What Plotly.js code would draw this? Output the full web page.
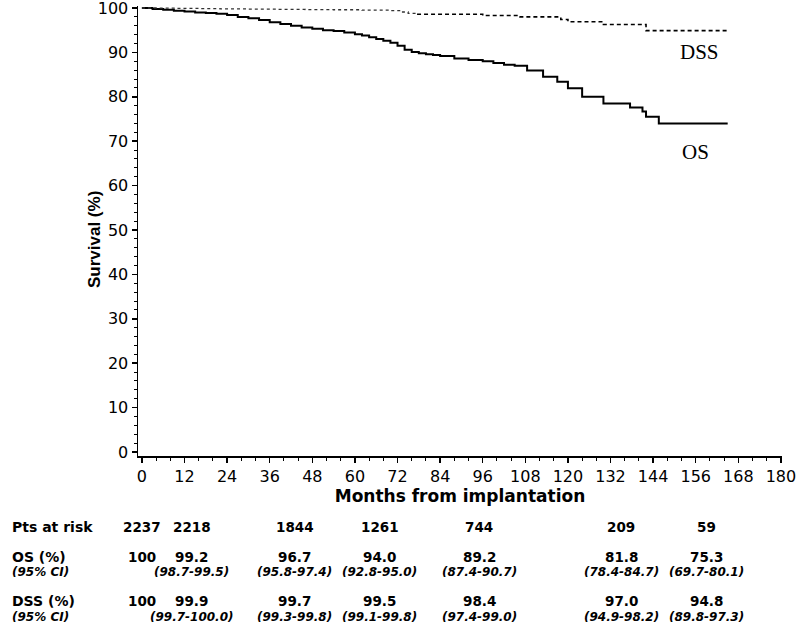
<!DOCTYPE html>
<html>
<head>
<meta charset="utf-8">
<script src="https://cdn.plot.ly/plotly-3.0.1.min.js"></script>
<style>html,body{margin:0;padding:0;background:#fff;}#chart{width:797px;height:629px;}</style>
</head>
<body>
<div id="chart"></div>
<script>
// ---- data ----
const osMonths = [0,3,6,9,12,15,18,21,24,27,30,33,36,39,42,45,48,51,54,57,60,62,64,66,68,70,72,74,76,78,80,82,84,88,92,96,99,102,105,108.5,113,117,120,124,130,137.5,141,142,145.6,165];
const osSurv   = [100,99.8,99.6,99.4,99.2,99.0,98.9,98.7,98.4,98.0,97.7,97.3,96.8,96.4,96.0,95.6,95.3,95.0,94.8,94.5,94.1,93.8,93.4,93.0,92.6,92.2,91.5,90.6,90.1,89.8,89.6,89.4,89.2,88.6,88.3,88.0,87.6,87.2,87.0,85.9,84.5,83.4,81.9,80.0,78.5,77.6,76.7,75.5,74.0,74.0];

const dssMonthsEarly = [0,4,10,16,22,30,38,46,54,62,70,73,75,77.5];
const dssSurvEarly   = [100,99.95,99.9,99.85,99.8,99.75,99.7,99.65,99.6,99.5,99.4,99.1,98.8,98.6];
const dssMonthsLate  = [77.5,96,106.5,118,120,130,142,165];
const dssSurvLate    = [98.6,98.3,98.0,97.4,96.9,96.3,94.9,94.9];

const xTicks = [0,12,24,36,48,60,72,84,96,108,120,132,144,156,168,180];
const yTicks = [0,10,20,30,40,50,60,70,80,90,100];

const ptsAtRisk = ['2237','2218','1844','1261','744','209','59'];
const osPct     = ['100','99.2','96.7','94.0','89.2','81.8','75.3'];
const osCI      = ['','(98.7-99.5)','(95.8-97.4)','(92.8-95.0)','(87.4-90.7)','(78.4-84.7)','(69.7-80.1)'];
const dssPct    = ['100','99.9','99.7','99.5','98.4','97.0','94.8'];
const dssCI     = ['','(99.7-100.0)','(99.3-99.8)','(99.1-99.8)','(97.4-99.0)','(94.9-98.2)','(89.8-97.3)'];
const rowLabels = ['Pts at risk','OS (%)','(95% CI)','DSS (%)','(95% CI)'];

// ---- layout helpers (positions, not data) ----
const W = 797, H = 629;
const marginL = 138, marginR = 15, marginT = 6, marginB = 173;
const plotW = W - marginL - marginR, plotH = H - marginT - marginB;
const paperX = p => (p - marginL) / plotW;
const paperY = p => (H - marginB - p) / plotH;
const colX = [0,14,43,67,95,135,159];          // table column centres, axis months
const rowY = [527,557,572,601,617];           // table row centres, px

const traces = [
  {x: osMonths, y: osSurv, mode:'lines', line:{shape:'hv', color:'#000', width:2}, hoverinfo:'skip'},
  {x: dssMonthsEarly, y: dssSurvEarly, mode:'lines', line:{shape:'hv', color:'#333', width:1.3, dash:'dot'}, hoverinfo:'skip'},
  {x: dssMonthsLate, y: dssSurvLate, mode:'lines', line:{shape:'hv', color:'#000', width:1.6, dash:'4px,3px'}, hoverinfo:'skip'}
];

const tf = {family:'DejaVu Sans, Arial, sans-serif', size:14, color:'#000', weight:'bold'};
const ann = [];
ann.push({x:157, y:90.2, xref:'x', yref:'y', text:'DSS', showarrow:false, font:{family:'Liberation Serif, Times New Roman, serif', size:21, color:'#000'}});
ann.push({x:156, y:67.6, xref:'x', yref:'y', text:'OS', showarrow:false, font:{family:'Liberation Serif, Times New Roman, serif', size:21, color:'#000'}});
// y-axis title placed as rotated annotation
ann.push({x:paperX(94), y:paperY(240), xref:'paper', yref:'paper', xanchor:'center', yanchor:'middle', textangle:-90, showarrow:false,
  text:'<b>Survival (%)</b>', font:{family:'Liberation Sans, Arial, sans-serif', size:17, color:'#000'}});
rowLabels.forEach((t,i)=>{
  const italic = t.startsWith('(95');
  ann.push({x:paperX(10), y:paperY(rowY[i]), xref:'paper', yref:'paper', xanchor:'left', yanchor:'middle', showarrow:false,
    text: italic ? '<i>'+t+'</i>' : t, font:{...tf, size: italic ? 12 : 14}});
});
const rows = [ptsAtRisk, osPct, osCI, dssPct, dssCI];
rows.forEach((r,ri)=>{
  r.forEach((t,ci)=>{
    if(!t) return;
    const italic = t.startsWith('(');
    ann.push({x:colX[ci], y:paperY(rowY[ri]), xref:'x', yref:'paper', xanchor:'center', yanchor:'middle', showarrow:false,
      text: italic ? '<i>'+t+'</i>' : t, font:{...tf, size: italic ? 12 : 13.5}});
  });
});

const tickFont = {family:'DejaVu Sans, Arial, sans-serif', size:16, color:'#000'};
const layout = {
  width:W, height:H,
  margin:{l:marginL, r:marginR, t:marginT, b:marginB},
  paper_bgcolor:'#fff', plot_bgcolor:'#fff',
  showlegend:false,
  xaxis:{
    range:[-1.1,180.3], tickvals:xTicks, ticktext:xTicks.map(String),
    showgrid:false, zeroline:false, showline:true, linecolor:'#000', linewidth:1.5,
    ticks:'outside', ticklen:5, tickwidth:1.5, tickcolor:'#000',
    minor:{dtick:4, ticks:'outside', ticklen:3, tickcolor:'#000', tickwidth:1, showgrid:false},
    tickfont:tickFont, ticklabeloverflow:'allow',
    title:{text:'<b>Months from implantation</b>', font:{family:'DejaVu Sans, Arial, sans-serif', size:17, color:'#000'}, standoff:4}
  },
  yaxis:{
    range:[-0.9,100.45], tickvals:yTicks, ticktext:yTicks.map(String),
    showgrid:false, zeroline:false, showline:true, linecolor:'#000', linewidth:1.5,
    ticks:'outside', ticklen:5, tickwidth:1.5, tickcolor:'#000',
    minor:{dtick:2, ticks:'outside', ticklen:3, tickcolor:'#000', tickwidth:1, showgrid:false},
    tickfont:tickFont, ticklabeloverflow:'allow'
  },
  annotations: ann
};

Plotly.newPlot('chart', traces, layout, {displayModeBar:false, staticPlot:true});
</script>
</body>
</html>
